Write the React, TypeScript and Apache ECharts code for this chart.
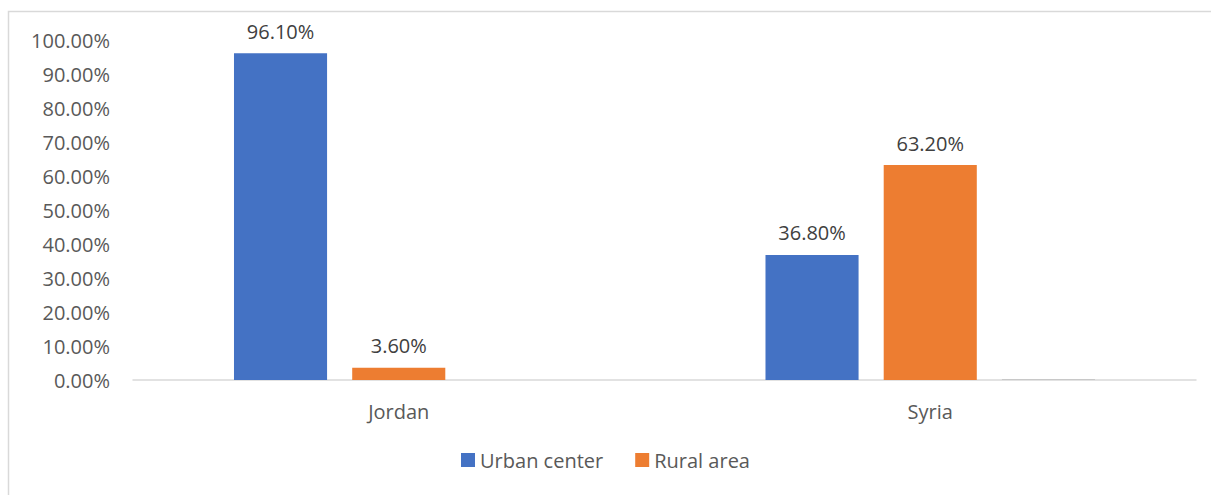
import React, { useEffect, useRef } from "react";
import * as echarts from "echarts";

const categories = ["Jordan", "Syria"];
const urbanCenter = [96.1, 36.8];
const ruralArea = [3.6, 63.2];
const otherArea = [0, 0.2];
const yTicks = [0, 10, 20, 30, 40, 50, 60, 70, 80, 90, 100];

const FONT = "'Open Sans', 'Noto Sans', sans-serif";
const FS = 20;

export default function App() {
  const ref = useRef<HTMLDivElement>(null);
  useEffect(() => {
    if (!ref.current) return;
    const chart = echarts.init(ref.current, null, { renderer: "svg" });
    const label = {
      show: true,
      position: "top",
      distance: 12,
      color: "#404040",
      fontSize: FS,
      fontFamily: FONT,
      formatter: (p: any) => p.value.toFixed(2) + "%",
    };
    chart.setOption({
      animation: false,
      backgroundColor: "#ffffff",
      textStyle: { fontFamily: FONT },
      graphic: [
        {
          type: "rect",
          shape: { x: 8.5, y: 11.5, width: 1400, height: 700 },
          style: { fill: "none", stroke: "#d9d9d9", lineWidth: 1.5 },
          silent: true,
          z: -1,
        },
      ],
      grid: { left: 133, right: 15, top: 40, bottom: 115, containLabel: false },
      legend: {
        data: ["Urban center", "Rural area"],
        bottom: 20,
        left: "center",
        icon: "rect",
        itemWidth: 14,
        itemHeight: 14,
        itemGap: 32,
        textStyle: { color: "#595959", fontSize: FS, fontFamily: FONT },
      },
      xAxis: {
        type: "category",
        data: categories,
        axisLine: { lineStyle: { color: "#d9d9d9", width: 1.5 } },
        axisTick: { show: false },
        axisLabel: { color: "#595959", fontSize: FS, fontFamily: FONT, margin: 21 },
      },
      yAxis: {
        type: "value",
        min: yTicks[0],
        max: yTicks[yTicks.length - 1],
        interval: 10,
        splitLine: { show: false },
        axisLine: { show: false },
        axisTick: { show: false },
        axisLabel: {
          color: "#595959",
          fontSize: FS,
          fontFamily: FONT,
          margin: 23,
          formatter: (v: number) => v.toFixed(2) + "%",
        },
      },
      series: [
        {
          name: "Urban center",
          type: "bar",
          data: urbanCenter,
          itemStyle: { color: "#4472c4" },
          barGap: "27%",
          barCategoryGap: "38%",
          label,
        },
        {
          name: "Rural area",
          type: "bar",
          data: ruralArea,
          itemStyle: { color: "#ed7d31" },
          barGap: "27%",
          barCategoryGap: "38%",
          label,
        },
        {
          name: "Other",
          type: "bar",
          data: otherArea,
          itemStyle: { color: "#bfbfbf" },
          barGap: "27%",
          barCategoryGap: "38%",
        },
      ],
    });
    return () => chart.dispose();
  }, []);
  return (
    <div
      ref={ref}
      style={{ position: "fixed", left: 0, top: 0, width: 1211, height: 495 }}
    />
  );
}
